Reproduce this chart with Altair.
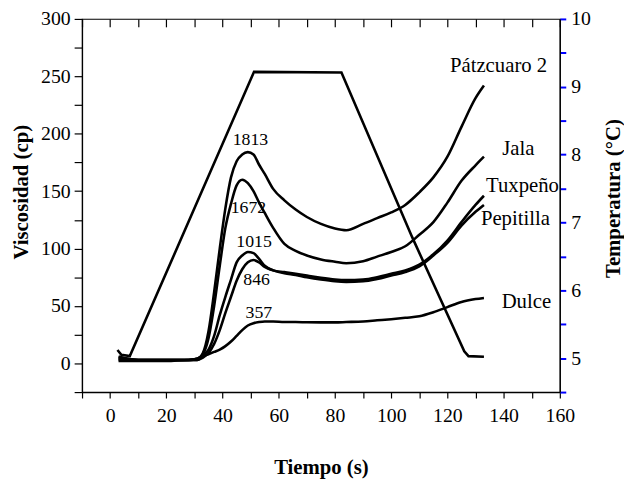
import altair as alt
import pandas as pd

SERIF = "Liberation Serif"

# ---- data ----
time_s = [3, 10, 20, 28, 31, 33, 35, 37, 39, 41, 43, 45, 47, 49, 51, 53, 55, 58, 62, 66,
          70, 75, 80, 84, 90, 95, 100, 105, 110, 115, 120, 125, 130, 133]

patzcuaro = [6, 3, 3, 3, 4, 9, 28, 62, 100, 135, 162, 176, 182, 184, 182, 173, 165, 152, 142, 134,
             127.5, 121.5, 117.5, 116, 121.5, 126.5, 131.5, 138, 149, 162, 180, 206, 231, 242]
jala = [4, 3, 3, 3, 4, 8, 22, 50, 85, 118, 139, 155, 160, 157, 150, 140, 131, 118, 104, 98,
        94, 90.5, 88.5, 87.2, 89, 93, 97, 102, 112, 123, 140, 159, 172.5, 180]
tuxpeno = [3, 3, 3, 3, 4, 7, 12, 24, 42, 58, 73, 88, 94, 97, 96, 91, 85, 81, 79.5, 78,
           76.5, 74.5, 73, 72.5, 73, 75, 78, 81, 86, 95, 107, 123, 138, 146]
pepitilla = [2, 2, 2, 3, 3, 5, 9, 17, 29, 44, 58, 72, 82, 88, 90, 88, 84, 81, 78.5, 77,
             75, 73, 71.5, 71, 71.5, 73.5, 76.5, 79.5, 84.5, 94, 105, 120, 132, 138]
dulce = [5, 3, 3, 3, 3, 6, 8, 10, 12, 15, 19, 24, 29, 33, 35, 36, 36.5, 36.5, 36, 36,
         35.8, 35.7, 35.7, 36, 36.5, 37.5, 38.5, 39.7, 41, 44.5, 49, 53.5, 56, 57]

curve_names = ["Pátzcuaro 2", "Jala", "Tuxpeño", "Pepitilla", "Dulce"]
curve_values = [patzcuaro, jala, tuxpeno, pepitilla, dulce]

temp_time = [2.6, 4, 7, 51.2, 82.3, 107.5, 126, 127.5, 133]
temp_value = [5.12, 5.05, 5.03, 9.22, 9.21, 6.78, 5.1, 5.03, 5.02]

peak_labels = ["1813", "1672", "1015", "846", "357"]
peak_x = [49.9, 49.2, 51.2, 52.1, 52.9]
peak_y = [194.6, 135.7, 105.7, 72.3, 43.7]

name_x = [138.2, 145.2, 146.7, 144.2, 148.1]
name_y = [258.9, 186.9, 154.3, 125.7, 53.4]

x_ticks = list(range(-10, 161, 10))
y_ticks = list(range(-25, 301, 25))
t_ticks = [4.5 + 0.5 * i for i in range(12)]

# ---- tables ----
rows = []
for name, vals in zip(curve_names, curve_values):
    for t, v in zip(time_s, vals):
        rows.append({"curve": name, "t": t, "v": v})
visc_df = pd.DataFrame(rows)
temp_df = pd.DataFrame({"t": temp_time, "temp": temp_value})
peak_df = pd.DataFrame({"label": peak_labels, "t": peak_x, "v": peak_y})
name_df = pd.DataFrame({"label": curve_names, "t": name_x, "v": name_y})

x_scale = alt.Scale(domain=[-10, 160], nice=False, zero=False)
y_scale = alt.Scale(domain=[-25, 300], nice=False, zero=False)
t_scale = alt.Scale(domain=[4.5, 10], nice=False, zero=False)

common_axis = dict(grid=False, domainColor="black", tickColor="black", labelColor="black",
                   titleColor="black", labelFont=SERIF, titleFont=SERIF, labelFlush=False,
                   labelOverlap=False, domainWidth=1.2, tickWidth=1.2)

x_bottom = alt.Axis(orient="bottom", values=x_ticks,
                    labelExpr="datum.value % 20 == 0 && datum.value >= 0 ? format(datum.value, 'd') : ''",
                    tickSize=6, labelFontSize=20, labelPadding=8,
                    title="Tiempo (s)", titleFontSize=21, titleFontWeight="bold",
                    titleBaseline="middle", titleY=76, **common_axis)

y_left = alt.Axis(orient="left", values=y_ticks,
                  labelExpr="datum.value % 50 == 0 && datum.value >= 0 ? format(datum.value, 'd') : ''",
                  tickSize=8, labelFontSize=20, labelPadding=4,
                  title="Viscosidad (cp)", titleFontSize=21, titleFontWeight="bold",
                  titleAngle=270, titleBaseline="middle", titleX=-61, titleY=175, **common_axis)

x_top = alt.Axis(orient="top", values=x_ticks, labels=False, domain=False, tickSize=8,
                 tickColor="black", tickWidth=1.2, offset=-8, grid=False, title="")

y_right = alt.Axis(orient="right", values=t_ticks,
                   labelExpr="datum.value % 1 == 0 ? format(datum.value, 'd') : ''",
                   tickSize=6, tickWidth=2, tickColor="#0000ff", domainColor="black", domainWidth=1.2,
                   labelColor="black", labelFont=SERIF, labelFontSize=20, labelPadding=5,
                   labelFlush=False, labelOverlap=False, grid=False,
                   title="Temperatura (°C)", titleFont=SERIF, titleFontSize=21, titleFontWeight="bold",
                   titleColor="black", titleAngle=270, titleBaseline="middle", titleX=54, titleY=181.5)

lines = alt.Chart(visc_df).mark_line(color="black", strokeWidth=2.6, interpolate="monotone").encode(
    x=alt.X("t:Q", scale=x_scale, axis=x_bottom),
    y=alt.Y("v:Q", scale=y_scale, axis=y_left),
    detail="curve:N",
)

peaks = alt.Chart(peak_df).mark_text(font=SERIF, fontSize=18, color="black",
                                     align="center", baseline="middle").encode(
    x=alt.X("t:Q", scale=x_scale, axis=None),
    y=alt.Y("v:Q", scale=y_scale, axis=None),
    text="label:N",
)

names = alt.Chart(name_df).mark_text(font=SERIF, fontSize=21, color="black",
                                     align="center", baseline="middle").encode(
    x=alt.X("t:Q", scale=x_scale, axis=None),
    y=alt.Y("v:Q", scale=y_scale, axis=None),
    text="label:N",
)

temp = alt.Chart(temp_df).mark_line(color="black", strokeWidth=2.6).encode(
    x=alt.X("t:Q", scale=x_scale, axis=x_top),
    y=alt.Y("temp:Q", scale=t_scale, axis=y_right),
)

chart = alt.layer(lines, peaks, names, temp).resolve_scale(
    y="independent"
).resolve_axis(
    x="independent", y="independent"
).properties(
    width=484, height=378,
    autosize=alt.AutoSizeParams(type="none"),
    padding={"left": 75, "top": 8, "right": 65, "bottom": 87},
    background="white",
).configure_view(stroke="black", strokeWidth=1.2)

chart.save("out.html", embed_options={"renderer": "svg", "actions": False})
